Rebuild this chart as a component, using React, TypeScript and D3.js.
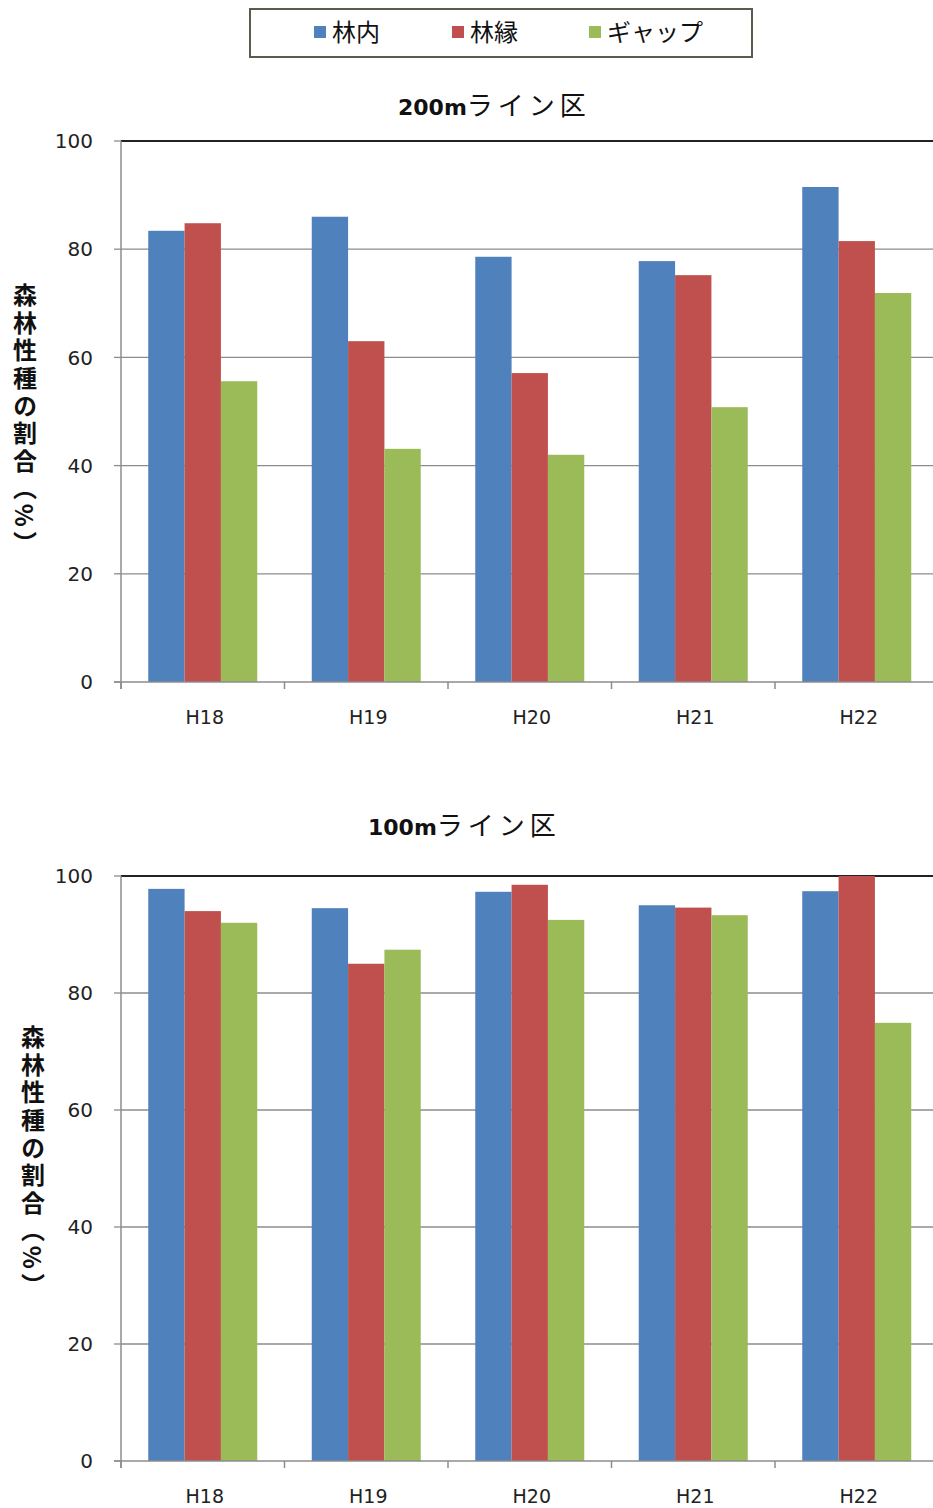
import React from "react";
import * as d3 from "d3";

const categories = ["H18", "H19", "H20", "H21", "H22"];
const seriesNames = ["林内", "林縁", "ギャップ"];
const seriesColors = ["#4F81BD", "#C0504D", "#9BBB59"];
const yTicks = [0, 20, 40, 60, 80, 100];

const top200Inner = [83.4, 86.0, 78.6, 77.8, 91.5];
const top200Edge = [84.8, 63.0, 57.1, 75.2, 81.5];
const top200Gap = [55.6, 43.1, 42.0, 50.8, 71.9];

const bot100Inner = [97.8, 94.5, 97.3, 95.0, 97.4];
const bot100Edge = [94.0, 85.0, 98.5, 94.6, 100];
const bot100Gap = [92.0, 87.4, 92.5, 93.3, 74.9];

const yTitle = "森林性種の割合（%）";

type PanelProps = {
  titleNum: string;
  titleKana: string;
  titleX: number;
  titleY: number;
  series: number[][];
  y0: number;
  y100: number;
  yTitleX: number;
  yTitleY: number;
};

const X0 = 121;
const BAND = 163.5;

function Panel({ titleNum, titleKana, titleX, titleY, series, y0, y100, yTitleX, yTitleY }: PanelProps) {
  const x = d3
    .scaleBand<string>()
    .domain(categories)
    .range([X0, X0 + BAND * categories.length])
    .paddingInner(0)
    .paddingOuter(0);
  const y = d3.scaleLinear().domain([0, 100]).range([y0, y100]);
  const barW = x.bandwidth() / 4.5;
  const gap = (x.bandwidth() - barW * 3) / 2;
  const xEnd = X0 + BAND * categories.length;
  const tickFont = "'DejaVu Sans', Verdana, sans-serif";
  return (
    <g>
      <text x={titleX} y={titleY} fill="#111">
        <tspan fontFamily="'DejaVu Sans', Verdana, sans-serif" fontWeight="bold" fontSize={22}>
          {titleNum}
        </tspan>
        <tspan
          fontFamily="'Noto Sans CJK JP', sans-serif"
          fontSize={26}
          letterSpacing={5}
        >
          {titleKana}
        </tspan>
      </text>
      {yTicks.map((t) => (
        <g key={t}>
          {t > 0 && t < 100 && (
            <line x1={X0} x2={xEnd} y1={y(t)} y2={y(t)} stroke="#8c8c8c" strokeWidth={1.3} />
          )}
          <line x1={X0 - 7} x2={X0} y1={y(t)} y2={y(t)} stroke="#8c8c8c" strokeWidth={1.3} />
          <text
            x={93}
            y={y(t)}
            dy="0.36em"
            textAnchor="end"
            fontFamily={tickFont}
            fontSize={20}
            fill="#222"
          >
            {t}
          </text>
        </g>
      ))}
      <line x1={X0} x2={xEnd} y1={y(100)} y2={y(100)} stroke="#222" strokeWidth={2} />
      {series.map((vals, si) =>
        categories.map((c, ci) => (
          <rect
            key={si + "-" + c}
            x={(x(c) as number) + gap + si * barW}
            y={y(vals[ci])}
            width={barW}
            height={y(0) - y(vals[ci])}
            fill={seriesColors[si]}
          />
        ))
      )}
      <line x1={X0} x2={X0} y1={y(100)} y2={y(0) + 7} stroke="#8c8c8c" strokeWidth={1.5} />
      <line x1={X0 - 7} x2={xEnd} y1={y(0)} y2={y(0)} stroke="#8c8c8c" strokeWidth={1.5} />
      {categories.map((c) => (
        <g key={c}>
          <line
            x1={x(c) as number}
            x2={x(c) as number}
            y1={y(0)}
            y2={y(0) + 7}
            stroke="#8c8c8c"
            strokeWidth={1.5}
          />
          <text
            x={(x(c) as number) + BAND / 2 + 2}
            y={y(0) + 42}
            textAnchor="middle"
            fontFamily={tickFont}
            fontSize={19}
            fill="#222"
          >
            {c}
          </text>
        </g>
      ))}
      <text
        x={yTitleX}
        y={yTitleY}
        style={{ writingMode: "vertical-rl" as any }}
        fontFamily="'Noto Sans CJK JP', sans-serif"
        fontWeight="bold"
        fontSize={24}
        letterSpacing={3.6}
        fill="#111"
      >
        {yTitle}
      </text>
    </g>
  );
}

export default function App() {
  const legendX = [314, 452, 589];
  return (
    <svg
      width={933}
      height={1508}
      style={{ position: "absolute", left: 0, top: 0, background: "#fff" }}
    >
      <rect x={250} y={9} width={502} height={48} fill="#fff" stroke="#5b5b4c" strokeWidth={2} />
      {seriesNames.map((s, i) => (
        <g key={s}>
          <rect x={legendX[i]} y={26} width={12} height={12} fill={seriesColors[i]} />
          <text
            x={legendX[i] + 18}
            y={41}
            fontFamily="'Noto Sans CJK JP', sans-serif"
            fontSize={24}
            fill="#111"
          >
            {s}
          </text>
        </g>
      ))}
      <Panel
        titleNum="200m"
        titleKana="ライン区"
        titleX={398}
        titleY={115}
        series={[top200Inner, top200Edge, top200Gap]}
        y0={682}
        y100={141}
        yTitleX={25}
        yTitleY={283}
      />
      <Panel
        titleNum="100m"
        titleKana="ライン区"
        titleX={368}
        titleY={835}
        series={[bot100Inner, bot100Edge, bot100Gap]}
        y0={1461}
        y100={876}
        yTitleX={33}
        yTitleY={1025}
      />
    </svg>
  );
}
